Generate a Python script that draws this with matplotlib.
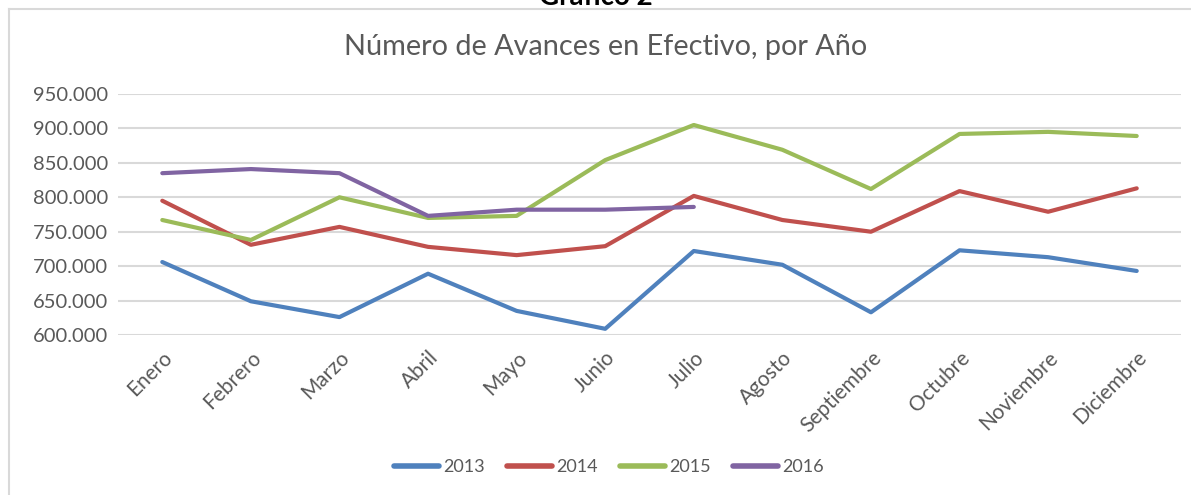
import matplotlib
matplotlib.use("Agg")
import matplotlib.pyplot as plt
from matplotlib.lines import Line2D
from matplotlib.ticker import FuncFormatter, MultipleLocator

plt.rcParams['font.family'] = ['Lato', 'DejaVu Sans']

meses = ["Enero", "Febrero", "Marzo", "Abril", "Mayo", "Junio", "Julio",
         "Agosto", "Septiembre", "Octubre", "Noviembre", "Diciembre"]

# valores en miles
v2013 = [706, 649, 626, 689, 635, 609, 722, 702, 633, 723, 713, 693]
v2014 = [795, 731, 757, 728, 716, 729, 802, 767, 750, 809, 779, 813]
v2015 = [767, 738, 800, 770, 773, 854, 905, 869, 812, 892, 895, 889]
v2016 = [835, 841, 835, 773, 782, 782, 786]

series = [("2013", v2013, "#4F81BD"),
          ("2014", v2014, "#C0504D"),
          ("2015", v2015, "#9BBB59"),
          ("2016", v2016, "#8064A2")]

W, H = 1191, 495
fig = plt.figure(figsize=(W / 100, H / 100), dpi=100)
fig.patch.set_facecolor("white")

# chart border (left and top visible)
fig.add_artist(Line2D([8.5 / W, 8.5 / W], [0, 1 - 9 / H], color="#D9D9D9", lw=1.5))
fig.add_artist(Line2D([8.5 / W, 1], [1 - 9 / H, 1 - 9 / H], color="#D9D9D9", lw=1.5))

# heading above the chart, cut by the page edge as in the original
fig.text(596 / W, 1 - 5 / H, "Gráfico 2", ha="center", va="baseline",
         fontsize=20, fontweight="bold", color="black")

ax = fig.add_axes([118 / W, (H - 335) / H, (1181 - 118) / W, (335 - 94) / H])

x = list(range(len(meses)))
for name, vals, col in series:
    ax.plot(x[:len(vals)], [v * 1000 for v in vals], color=col, lw=3,
            solid_capstyle="round", solid_joinstyle="round", label=name)

ax.set_xlim(-0.5, len(meses) - 0.5)
ax.set_ylim(600000, 950000)
ax.yaxis.set_major_locator(MultipleLocator(50000))
ax.yaxis.set_major_formatter(FuncFormatter(lambda v, p: f"{int(v):,}".replace(",", ".")))
ax.grid(axis="y", color="#D9D9D9", lw=1.5)
ax.set_axisbelow(True)
for s in ax.spines.values():
    s.set_visible(False)

ax.set_xticks(x)
ax.set_xticklabels(meses, rotation=45, ha="right", rotation_mode="anchor")
ax.tick_params(axis="both", length=0, colors="#595959")
ax.tick_params(axis="x", pad=9, labelsize=15)
ax.tick_params(axis="y", pad=7, labelsize=14.5)

fig.text(606 / W, 1 - 47 / H, "Número de Avances en Efectivo, por Año",
         ha="center", va="center", fontsize=20.8, color="#595959")

leg = fig.legend(loc="center", bbox_to_anchor=(609 / W, 1 - 467 / H), ncol=4,
                 frameon=False, fontsize=13, handlelength=2.5, handletextpad=0.25,
                 columnspacing=1.2, labelcolor="#595959")
for h in leg.legend_handles:
    h.set_linewidth(4)
    h.set_solid_capstyle("round")

fig.savefig("out.png", dpi=100, facecolor=fig.get_facecolor())
